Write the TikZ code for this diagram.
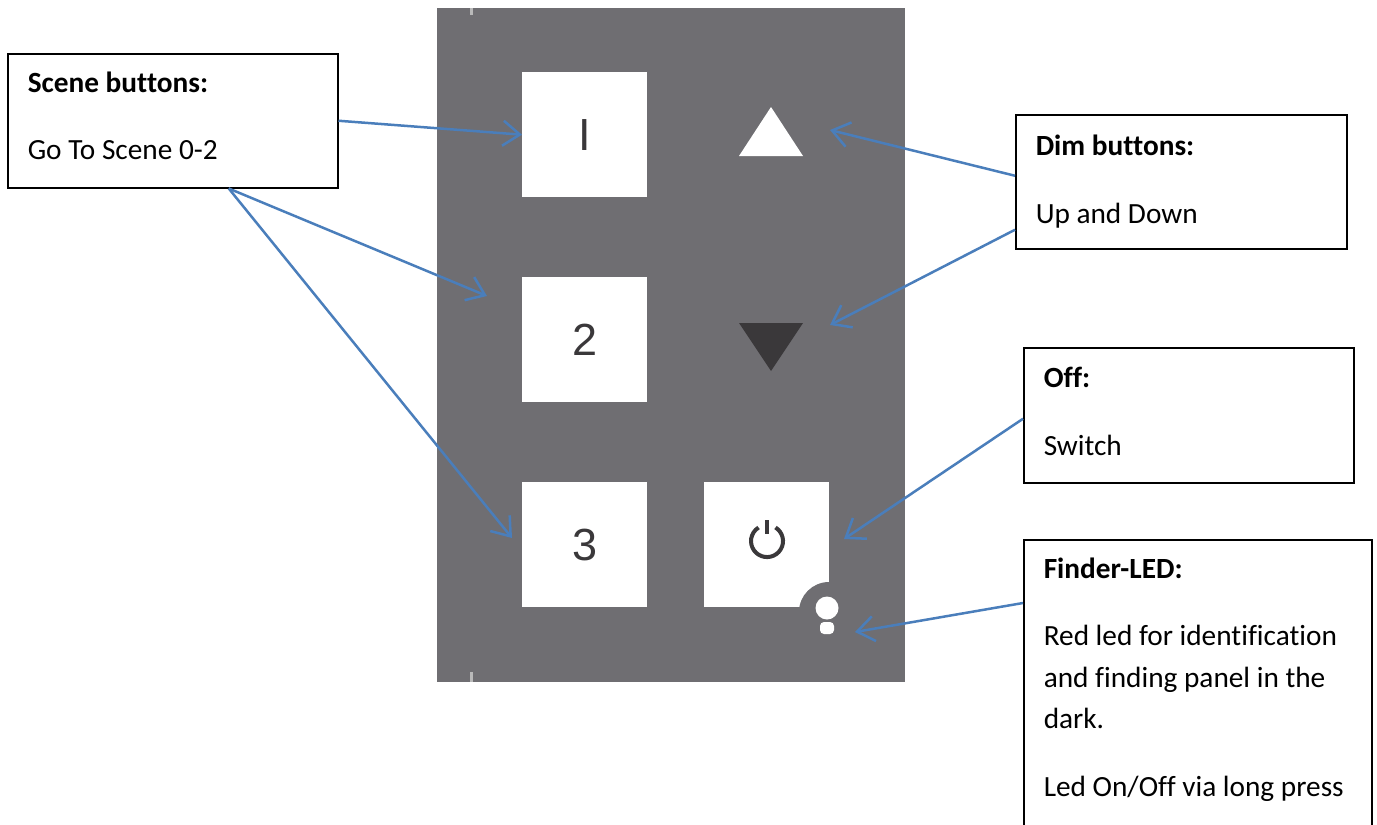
\documentclass[tikz,border=0pt]{standalone}
\usepackage{fontspec}
\setmainfont[Ligatures=NoCommon]{Carlito}
\newfontfamily\keyfont{Liberation Sans}
\usetikzlibrary{arrows.meta}
\definecolor{panelgray}{HTML}{6F6E72}
\definecolor{arrowblue}{HTML}{4A7EBB}
\definecolor{keydark}{HTML}{3A383A}
\tikzset{
  calloutbox/.style={draw=black,line width=1.5pt,fill=white,anchor=north west,align=flush left,inner xsep=20pt,inner ysep=0pt,font=\fontsize{29.3}{41.5}\selectfont},
  keybox/.style={fill=white,anchor=north west,minimum width=125pt,minimum height=125pt,inner sep=0pt,text=keydark,font=\keyfont\fontsize{45}{45}\selectfont},
  callout/.style={draw=arrowblue,line width=2.5pt,-{Straight Barb[length=17pt,width=25pt,line width=2.5pt]}},
}
\begin{document}
\begin{tikzpicture}[x=1pt,y=-1pt]
\useasboundingbox (0,0) rectangle (1377,825);
\fill[panelgray] (437,8) rectangle (905,682);
\fill[gray!55] (470,8) rectangle (473,15);
\fill[gray!55] (470,672) rectangle (473,682);
\node[keybox] (sceneone) at (522,72) {I};
\node[keybox] (scenetwo) at (522,277) {2};
\node[keybox] (scenethree) at (522,482) {3};
\node[keybox] (offkey) at (704,482) {};
\fill[panelgray] (829,612) circle (30);
\draw[keydark,line width=4pt] (775.5,527.5) arc (-58:238:16);
\draw[keydark,line width=4pt] (767,520) -- (767,534);
\fill[white] (827,608) circle (11.5);
\fill[white,rounded corners=4pt] (820,622) rectangle (834,634);
\fill[white] (739,156) -- (771,107) -- (803,156) -- cycle;
\fill[keydark] (739,323) -- (771,371) -- (803,323) -- cycle;
\node[calloutbox,text width=290pt,minimum height=134pt] (scenebox) at (7,53) {\textbf{Scene buttons:}\\[26pt]Go To Scene 0-2\\[-31.5pt]\mbox{}};
\node[calloutbox,text width=291pt,minimum height=134pt] (dimbox) at (1015,114) {\textbf{Dim buttons:}\\[26pt]Up and Down};
\node[calloutbox,text width=290pt,minimum height=135pt] (offbox) at (1023,347) {\textbf{Off:}\\[26pt]Switch\\[-33.5pt]\mbox{}};
\node[calloutbox,text width=308pt,minimum height=316pt] (finderbox) at (1023,539) {\textbf{Finder-LED:}\\[26pt]Red led for identification\\and finding panel in the\\dark.\\[26pt]Led On/Off via long press\\[0pt]\mbox{}};
\coordinate (scenetwotip) at (487,296);
\coordinate (scenethreetip) at (512,538);
\coordinate (uptip) at (830,130);
\coordinate (downtip) at (830,325);
\coordinate (offtip) at (844,539);
\coordinate (ledtip) at (855,632);
\draw[callout] (scenebox.east) -- (sceneone.west);
\draw[callout] ([xshift=56pt]scenebox.south) -- (scenetwotip);
\draw[callout] ([xshift=56pt]scenebox.south) -- (scenethreetip);
\draw[callout] ([yshift=6pt]dimbox.west) -- (uptip);
\draw[callout] ([yshift=-48pt]dimbox.west) -- (downtip);
\draw[callout] ([yshift=-3.5pt]offbox.west) -- (offtip);
\draw[callout] ([yshift=-64pt]finderbox.north west) -- (ledtip);
\end{tikzpicture}
\end{document}
